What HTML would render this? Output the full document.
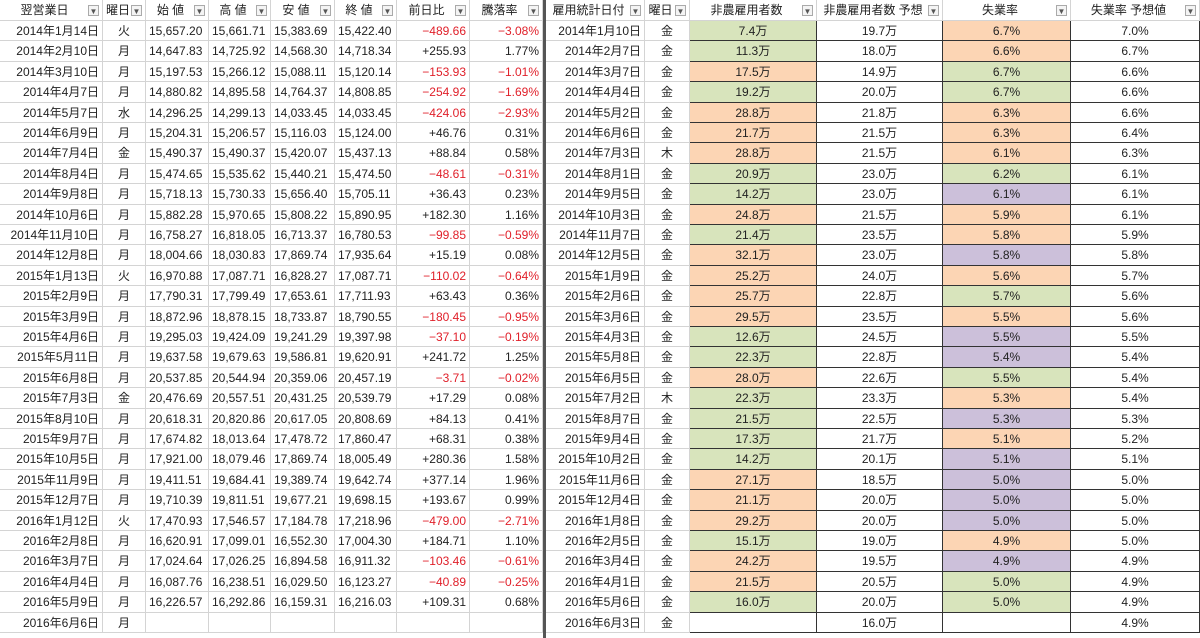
<!DOCTYPE html>
<html><head><meta charset="utf-8">
<style>
body{margin:0;width:1200px;height:638px;overflow:hidden;background:#fff;font-family:"Liberation Sans","Noto Sans CJK JP",sans-serif;font-size:12px;color:#222}
#sheet{position:relative;width:1200px;height:638px}
.c{position:absolute;box-sizing:border-box;border-right:1px solid #d4d4d4;border-bottom:1px solid #d4d4d4;white-space:nowrap;overflow:hidden;line-height:20px;padding:0 3px}
.h{line-height:21px;text-align:center;padding-right:16px}
.f{position:absolute;width:11px;height:11px;border:1px solid #aaa;background:#f4f4f4;font-size:8px;line-height:11px;text-align:center;color:#555;box-sizing:border-box}
.r{text-align:right}.ctr{text-align:center}
.neg{color:#e0202a}
.dk{border-right:1px solid #333;border-bottom:1px solid #333}
.g{background:#d8e4bc}.o{background:#fcd5b4}.p{background:#ccc0da}
#div{position:absolute;left:543px;top:0;width:3px;height:638px;background:#555}
</style></head><body>
<div id="sheet"></div>
<script>
const leftHeaders=["翌営業日","曜日","始 値","高 値","安 値","終 値","前日比","騰落率"];
const rightHeaders=["雇用統計日付","曜日","非農雇用者数","非農雇用者数 予想","失業率","失業率 予想値"];
const leftDates=["2014年1月14日","2014年2月10日","2014年3月10日","2014年4月7日","2014年5月7日","2014年6月9日","2014年7月4日","2014年8月4日","2014年9月8日","2014年10月6日","2014年11月10日","2014年12月8日","2015年1月13日","2015年2月9日","2015年3月9日","2015年4月6日","2015年5月11日","2015年6月8日","2015年7月3日","2015年8月10日","2015年9月7日","2015年10月5日","2015年11月9日","2015年12月7日","2016年1月12日","2016年2月8日","2016年3月7日","2016年4月4日","2016年5月9日","2016年6月6日"];
const leftDays=["火","月","月","月","水","月","金","月","月","月","月","月","火","月","月","月","月","月","金","月","月","月","月","月","火","月","月","月","月","月"];
const openV=["15,657.20","14,647.83","15,197.53","14,880.82","14,296.25","15,204.31","15,490.37","15,474.65","15,718.13","15,882.28","16,758.27","18,004.66","16,970.88","17,790.31","18,872.96","19,295.03","19,637.58","20,537.85","20,476.69","20,618.31","17,674.82","17,921.00","19,411.51","19,710.39","17,470.93","16,620.91","17,024.64","16,087.76","16,226.57",""];
const highV=["15,661.71","14,725.92","15,266.12","14,895.58","14,299.13","15,206.57","15,490.37","15,535.62","15,730.33","15,970.65","16,818.05","18,030.83","17,087.71","17,799.49","18,878.15","19,424.09","19,679.63","20,544.94","20,557.51","20,820.86","18,013.64","18,079.46","19,684.41","19,811.51","17,546.57","17,099.01","17,026.25","16,238.51","16,292.86",""];
const lowV=["15,383.69","14,568.30","15,088.11","14,764.37","14,033.45","15,116.03","15,420.07","15,440.21","15,656.40","15,808.22","16,713.37","17,869.74","16,828.27","17,653.61","18,733.87","19,241.29","19,586.81","20,359.06","20,431.25","20,617.05","17,478.72","17,869.74","19,389.74","19,677.21","17,184.78","16,552.30","16,894.58","16,029.50","16,159.31",""];
const closeV=["15,422.40","14,718.34","15,120.14","14,808.85","14,033.45","15,124.00","15,437.13","15,474.50","15,705.11","15,890.95","16,780.53","17,935.64","17,087.71","17,711.93","18,790.55","19,397.98","19,620.91","20,457.19","20,539.79","20,808.69","17,860.47","18,005.49","19,642.74","19,698.15","17,218.96","17,004.30","16,911.32","16,123.27","16,216.03",""];
const chgV=["−489.66","+255.93","−153.93","−254.92","−424.06","+46.76","+88.84","−48.61","+36.43","+182.30","−99.85","+15.19","−110.02","+63.43","−180.45","−37.10","+241.72","−3.71","+17.29","+84.13","+68.31","+280.36","+377.14","+193.67","−479.00","+184.71","−103.46","−40.89","+109.31",""];
const pctV=["−3.08%","1.77%","−1.01%","−1.69%","−2.93%","0.31%","0.58%","−0.31%","0.23%","1.16%","−0.59%","0.08%","−0.64%","0.36%","−0.95%","−0.19%","1.25%","−0.02%","0.08%","0.41%","0.38%","1.58%","1.96%","0.99%","−2.71%","1.10%","−0.61%","−0.25%","0.68%",""];
const rightDates=["2014年1月10日","2014年2月7日","2014年3月7日","2014年4月4日","2014年5月2日","2014年6月6日","2014年7月3日","2014年8月1日","2014年9月5日","2014年10月3日","2014年11月7日","2014年12月5日","2015年1月9日","2015年2月6日","2015年3月6日","2015年4月3日","2015年5月8日","2015年6月5日","2015年7月2日","2015年8月7日","2015年9月4日","2015年10月2日","2015年11月6日","2015年12月4日","2016年1月8日","2016年2月5日","2016年3月4日","2016年4月1日","2016年5月6日","2016年6月3日"];
const rightDays=["金","金","金","金","金","金","木","金","金","金","金","金","金","金","金","金","金","金","木","金","金","金","金","金","金","金","金","金","金","金"];
const nfp=[7.4,11.3,17.5,19.2,28.8,21.7,28.8,20.9,14.2,24.8,21.4,32.1,25.2,25.7,29.5,12.6,22.3,28.0,22.3,21.5,17.3,14.2,27.1,21.1,29.2,15.1,24.2,21.5,16.0,null];
const nfpF=[19.7,18.0,14.9,20.0,21.8,21.5,21.5,23.0,23.0,21.5,23.5,23.0,24.0,22.8,23.5,24.5,22.8,22.6,23.3,22.5,21.7,20.1,18.5,20.0,20.0,19.0,19.5,20.5,20.0,16.0];
const unemp=[6.7,6.6,6.7,6.7,6.3,6.3,6.1,6.2,6.1,5.9,5.8,5.8,5.6,5.7,5.5,5.5,5.4,5.5,5.3,5.3,5.1,5.1,5.0,5.0,5.0,4.9,4.9,5.0,5.0,null];
const unempF=[7.0,6.7,6.6,6.6,6.6,6.4,6.3,6.1,6.1,6.1,5.9,5.8,5.7,5.6,5.6,5.5,5.4,5.4,5.4,5.3,5.2,5.1,5.0,5.0,5.0,5.0,4.9,4.9,4.9,4.9];

const S=document.getElementById('sheet');
const LX=[0,103,146,209,271,335,397,470,543];
const RX=[546,645,690,817,943,1071,1200];
const HH=21,RH=20.4;
function cell(x,y,w,h,txt,cls,name){
  const d=document.createElement('div');
  d.className='c '+(cls||'');
  d.style.left=x+'px';d.style.top=y+'px';d.style.width=w+'px';d.style.height=h+'px';
  d.textContent=txt;
  
  
  S.appendChild(d);return d;
}
function header(xs,heads,prefix){
  heads.forEach((t,i)=>{
    const d=cell(xs[i],0,xs[i+1]-xs[i],HH,t,'h',prefix+'-header-'+i);
    const f=document.createElement('div');
    f.className='f';f.textContent='▼';
    f.style.right='3px';f.style.top='5px';
    
    
    d.appendChild(f);
  });
}
header(LX,leftHeaders,'left');
header(RX,rightHeaders,'right');
for(let i=0;i<30;i++){
  const y=HH+i*RH;
  const cols=[[leftDates[i],'r'],[leftDays[i],'ctr'],[openV[i],''],[highV[i],''],[lowV[i],''],[closeV[i],''],[chgV[i],'r'],[pctV[i],'r']];
  cols.forEach((c,j)=>{
    let cls=c[1];
    if(j>=6&&c[0].startsWith('−'))cls+=' neg';
    cell(LX[j],y,LX[j+1]-LX[j],RH,c[0],cls,'left-cell-r'+i+'-c'+j);
  });
  cell(RX[0],y,RX[1]-RX[0],RH,rightDates[i],'r','release-date');
  cell(RX[1],y,RX[2]-RX[1],RH,rightDays[i],'ctr','release-weekday');
  let nc='ctr dk';
  if(nfp[i]!==null)nc+=nfp[i]>nfpF[i]?' o':' g';
  cell(RX[2],y,RX[3]-RX[2],RH,nfp[i]===null?'':nfp[i].toFixed(1)+'万',nc,'nfp-actual');
  cell(RX[3],y,RX[4]-RX[3],RH,nfpF[i].toFixed(1)+'万','ctr dk','nfp-forecast');
  let uc='ctr dk';
  if(unemp[i]!==null)uc+=unemp[i]<unempF[i]?' o':(unemp[i]===unempF[i]?' p':' g');
  cell(RX[4],y,RX[5]-RX[4],RH,unemp[i]===null?'':unemp[i].toFixed(1)+'%',uc,'unemployment-actual');
  cell(RX[5],y,RX[6]-RX[5],RH,unempF[i].toFixed(1)+'%','ctr dk','unemployment-forecast');
}
const dv=document.createElement('div');dv.id='div';


S.appendChild(dv);
</script>
</body></html>
